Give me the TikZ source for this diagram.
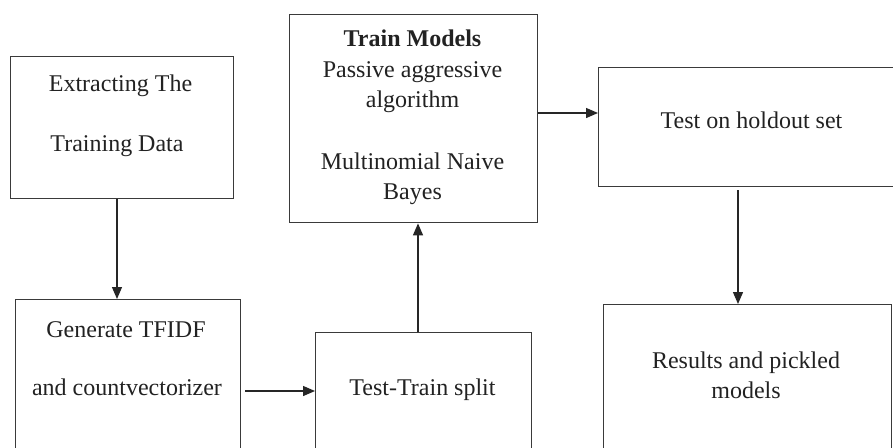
\documentclass[tikz,border=0pt]{standalone}
\usepackage{fontspec}
\setmainfont{Liberation Serif}
\usetikzlibrary{arrows.meta}
\definecolor{boxline}{HTML}{3A3A3A}
\definecolor{txt}{HTML}{222222}
\begin{document}
\begin{tikzpicture}[x=1pt,y=-1pt,
  box/.style={draw=boxline, line width=1.4pt, fill=none, inner sep=0pt, anchor=north west},
  lbl/.style={text=txt, inner sep=0pt, anchor=base, font=\fontsize{24}{30}\selectfont},
  arr/.style={draw=black!85, line width=1.3pt, -{Triangle[length=12pt,width=10pt]}}]
\useasboundingbox[fill=white] (0,0) rectangle (893,447);
% boxes
\node[box, minimum width=223pt, minimum height=142pt] (b1) at (10,56) {};
\node[box, minimum width=225pt, minimum height=170pt] (b2) at (15,299) {};
\node[box, minimum width=216pt, minimum height=140pt] (b3) at (315,332) {};
\node[box, minimum width=248pt, minimum height=208pt] (b4) at (289,14) {};
\node[box, minimum width=310pt, minimum height=119pt] (b5) at (598,67) {};
\node[box, minimum width=288pt, minimum height=165pt] (b6) at (603,304) {};
% texts
\node[lbl] (t1a) at (120.5,91) {Extracting The};
\node[lbl] (t1b) at (117,151) {Training Data};
\node[lbl] (t2a) at (126,337) {Generate TFIDF};
\node[lbl] (t2b) at (127,395) {and countvectorizer};
\node[lbl] (t3) at (422.5,395) {Test-Train split};
\node[lbl] (t4a) at (412.5,46) {\bfseries Train Models};
\node[lbl] (t4b) at (412.5,77) {Passive aggressive};
\node[lbl] (t4c) at (412.5,107) {algorithm};
\node[lbl] (t4d) at (412.5,169) {Multinomial Naive};
\node[lbl] (t4e) at (412.5,199) {Bayes};
\node[lbl] (t5) at (751.5,128) {Test on holdout set};
\node[lbl] (t6a) at (746,368) {Results and pickled};
\node[lbl] (t6b) at (746,398) {models};
% connectors
\draw[arr] (b1.south -| 117,0) -- (b2.north -| 117,0);
\draw[arr] ([xshift=4pt]b2.east |- 0,391) -- (b3.west |- 0,391);
\draw[arr] (b3.north -| 418,0) -- (b4.south -| 418,0);
\draw[arr] (b4.east |- 0,113) -- (b5.west |- 0,113);
\draw[arr] ([yshift=-3pt]b5.south -| 738,0) -- (b6.north -| 738,0);
\end{tikzpicture}
\end{document}
